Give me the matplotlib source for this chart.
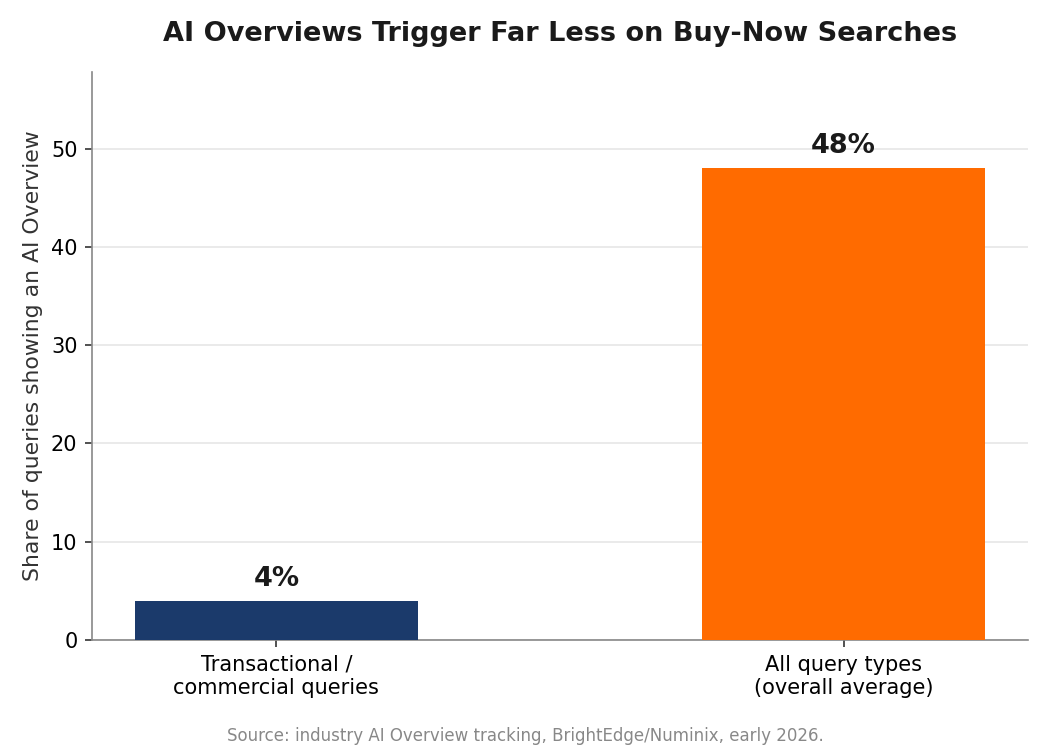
import matplotlib
matplotlib.use("Agg")
import matplotlib.pyplot as plt

categories = ["Transactional /\ncommercial queries", "All query types\n(overall average)"]
shares = [4, 48]
bar_colors = ["#1b3a6b", "#ff6b00"]

fig = plt.figure(figsize=(7, 5), dpi=150)
ax = fig.add_axes([0.0876, 0.1467, 0.8914, 0.7573])

x = range(len(categories))
bars = ax.bar(x, shares, width=0.5, color=bar_colors, zorder=3)
for bar, val in zip(bars, shares):
    ax.text(bar.get_x() + bar.get_width() / 2, val + 0.9, f"{val}%",
            ha="center", va="bottom", fontsize=13, fontweight="bold", color="#1a1a1a")

ax.set_xticks(list(x))
ax.set_xticklabels(categories, fontsize=10)
ax.set_ylim(0, 57.8)
ax.set_yticks([0, 10, 20, 30, 40, 50])
ax.tick_params(axis="y", labelsize=10)
ax.set_ylabel("Share of queries showing an AI Overview", fontsize=10.5, color="#333333")
ax.set_title("AI Overviews Trigger Far Less on Buy-Now Searches",
             fontsize=13, fontweight="bold", color="#1a1a1a", pad=15)

ax.grid(axis="y", color="#e6e6e6", linewidth=0.8, zorder=0)
for side in ("top", "right"):
    ax.spines[side].set_visible(False)
for side in ("left", "bottom"):
    ax.spines[side].set_color("#888888")
ax.tick_params(colors="#333333", labelcolor="black")

fig.text(0.5, 0.007, "Source: industry AI Overview tracking, BrightEdge/Numinix, early 2026.",
         ha="center", va="bottom", fontsize=8, color="#888888")

fig.savefig("out.png", dpi=150)
